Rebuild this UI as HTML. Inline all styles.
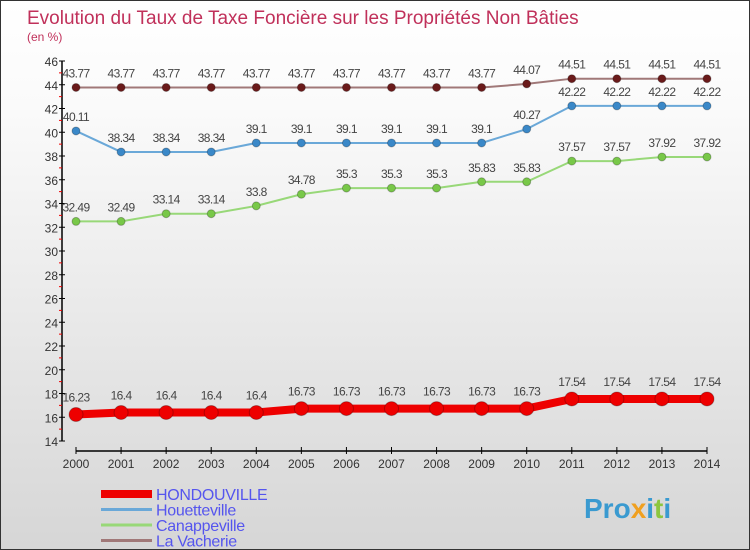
<!DOCTYPE html>
<html><head><meta charset="utf-8"><style>
body{margin:0}
#c{width:750px;height:550px;position:relative;overflow:hidden;background:linear-gradient(#fff,#fafafa 20%,#d6d6d6);border:1px solid #333;box-sizing:border-box;font-family:"Liberation Sans",sans-serif}
</style></head><body>
<div id="c">
<svg id="s" width="750" height="550" style="position:absolute;left:0;top:0">
<text x="26" y="23" font-size="19" font-weight="300" fill="#c0305a">Evolution du Taux de Taxe Foncière sur les Propriétés Non Bâties</text>
<text x="26" y="40" font-size="12" fill="#c0305a">(en %)</text>
<g id="axes"></g><g id="series"></g><g id="legend"></g>
<text x="583" y="517" font-size="28" font-weight="bold" fill="#3a9ad0">Pro<tspan fill="#f0a020">x</tspan>i<tspan fill="#8cc63f">t</tspan>i</text>
</svg>
</div>
<script>
const years=[2000,2001,2002,2003,2004,2005,2006,2007,2008,2009,2010,2011,2012,2013,2014];
const hondouville=[16.23,16.4,16.4,16.4,16.4,16.73,16.73,16.73,16.73,16.73,16.73,17.54,17.54,17.54,17.54];
const houetteville=[40.11,38.34,38.34,38.34,39.1,39.1,39.1,39.1,39.1,39.1,40.27,42.22,42.22,42.22,42.22];
const canappeville=[32.49,32.49,33.14,33.14,33.8,34.78,35.3,35.3,35.3,35.83,35.83,37.57,37.57,37.92,37.92];
const lavacherie=[43.77,43.77,43.77,43.77,43.77,43.77,43.77,43.77,43.77,43.77,44.07,44.51,44.51,44.51,44.51];
const yTicks=[14,16,18,20,22,24,26,28,30,32,34,36,38,40,42,44,46];
const NS="http://www.w3.org/2000/svg";
const x=i=>75+i*(631/14);
const y=v=>440-(v-14)*(380/32);
function mk(t,a,p){const e=document.createElementNS(NS,t);for(const k in a)e.setAttribute(k,a[k]);p.appendChild(e);return e;}
const ax=document.getElementById('axes');
let l=mk('line',{x1:61,y1:60,x2:61,y2:440,stroke:'#000','stroke-width':1.5},ax);


l=mk('line',{x1:75,y1:450,x2:706,y2:450,stroke:'#000','stroke-width':1.5},ax);


yTicks.forEach(v=>{
 mk('line',{x1:58,y1:y(v),x2:64,y2:y(v),stroke:'#000'},ax);
 if(v<46)mk('line',{x1:58,y1:y(v+1),x2:61,y2:y(v+1),stroke:'#e00'},ax);
 const t=mk('text',{x:57,y:y(v)+5,'font-size':12,'text-anchor':'end',fill:'#333'},ax);t.textContent=v;
 
 
});
years.forEach((yr,i)=>{
 mk('line',{x1:x(i),y1:446,x2:x(i),y2:453,stroke:'#000'},ax);
 const t=mk('text',{x:x(i),y:467,'font-size':12,'text-anchor':'middle',fill:'#333'},ax);t.textContent=yr;
 
 
});
const sg=document.getElementById('series');
const defs=[
 [lavacherie,'#a07878','#6a1a1a',2,4,'la-vacherie'],
 [houetteville,'#6aa8d8','#3a88c8',2,4,'houetteville'],
 [canappeville,'#98d878','#78c848',2,4,'canappeville'],
 [hondouville,'#ee0000','#ee0000',8,7,'hondouville']];
defs.forEach(([d,lc,pc,w,r,n])=>{
 const pl=mk('polyline',{points:d.map((v,i)=>x(i)+','+y(v)).join(' '),fill:'none',stroke:lc,'stroke-width':w},sg);
 
 
 d.forEach((v,i)=>{
  const c=mk('circle',{cx:x(i),cy:y(v),r:r,fill:pc,stroke:'rgba(0,0,0,0.25)'},sg);
  
  
  const t=mk('text',{x:x(i),y:y(v)-(r+6),'font-size':12,'text-anchor':'middle',fill:'#444','letter-spacing':'-0.6'},sg);
  t.textContent=v;
  
  
 });
});
const lg=document.getElementById('legend');
[['HONDOUVILLE','#ee0000',8],['Houetteville','#6aa8d8',3],['Canappeville','#98d878',3],['La Vacherie','#a07878',3]].forEach(([n,c,w],i)=>{
 const yy=493+i*15.5;
 const ln=mk('line',{x1:100,y1:yy,x2:151,y2:yy,stroke:c,'stroke-width':w},lg);
 
 
 const t=mk('text',{x:155,y:yy+6,'font-size':16,fill:'#5555ee','letter-spacing':'-0.3'},lg);t.textContent=n;
 
 
});
</script>
</body></html>
